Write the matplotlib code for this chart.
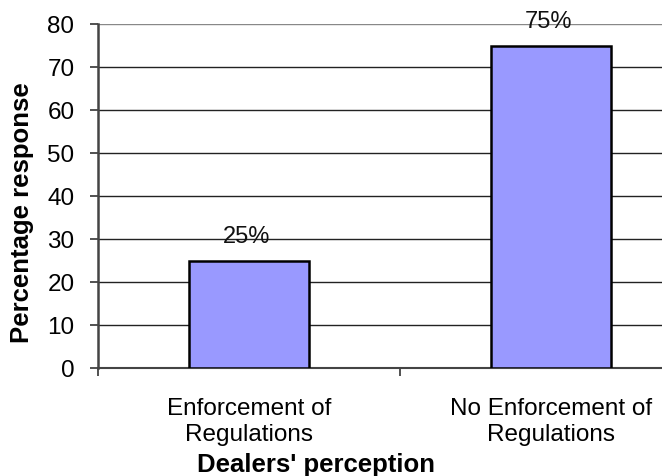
import matplotlib.pyplot as plt
import numpy as np

plt.rcParams['font.family'] = ['Liberation Sans', 'DejaVu Sans']

# Data
categories = ["Enforcement of\nRegulations", "No Enforcement of\nRegulations"]
values = [25, 75]
labels = ["25%", "75%"]
yticks = [0, 10, 20, 30, 40, 50, 60, 70, 80]

fig = plt.figure(figsize=(6.62, 4.77), dpi=100)
# axes runs past the right edge of the figure, as in the original (clipped)
ax = fig.add_axes([98/662, 108/477, 604/662, 344/477])

x = np.arange(len(categories))
ax.bar(x, values, width=0.4, color="#9999FF", edgecolor="black", linewidth=1.8, zorder=3)

for xi, v, lab in zip(x, values, labels):
    ax.annotate(lab, (xi, v), xytext=(-1.5, 10), textcoords="offset points",
                ha="center", va="bottom", fontsize=17, color="#111111", zorder=4)

ax.set_xlim(-0.5, 1.5)
ax.set_ylim(0, 80)
ax.set_yticks(yticks)
ax.tick_params(axis="y", labelsize=17.5, length=6, width=1.2, pad=11, color="#333333")

ax.set_xticks(x)
ax.set_xticklabels(categories, fontsize=17.5, linespacing=1.2)
ax.set_xticks([-0.5, 0.5, 1.5], minor=True)
ax.tick_params(axis="x", which="major", length=0, pad=21)
ax.tick_params(axis="x", which="minor", length=6, width=1.2, color="#333333")

ax.yaxis.grid(True, color="#222222", linewidth=1.0, zorder=0)
ax.yaxis.get_gridlines()[-1].set_color("#888888")
ax.set_axisbelow(True)

for side in ("top", "right"):
    ax.spines[side].set_visible(False)
ax.spines["left"].set_color("#444444")
ax.spines["left"].set_linewidth(1.8)
ax.spines["bottom"].set_color("#444444")
ax.spines["bottom"].set_linewidth(1.5)

fig.text(316/662, 1 - 465/477, "Dealers' perception", fontsize=18.5, fontweight="bold",
         ha="center", va="center")
fig.text(22/662, 1 - 213/477, "Percentage response", fontsize=18.5, fontweight="bold",
         ha="center", va="center", rotation=90)

fig.savefig("out.png", dpi=100)
